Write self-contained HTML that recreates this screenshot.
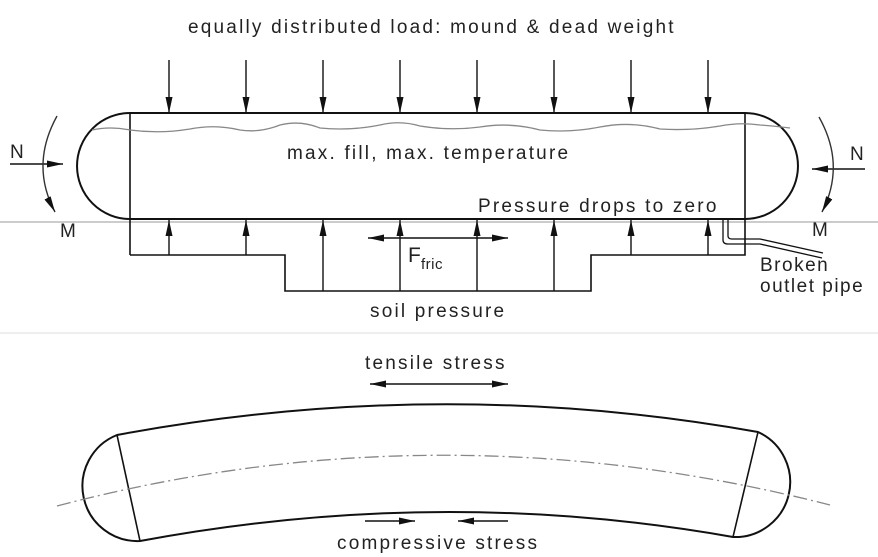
<!DOCTYPE html>
<html><head><style>
html,body{margin:0;padding:0;background:#fff;}
svg{display:block;}
text{font-family:"Liberation Sans",sans-serif;fill:#222;}
</style></head><body>
<svg width="878" height="557" viewBox="0 0 878 557" xmlns="http://www.w3.org/2000/svg">
<defs>
<marker id="ah" viewBox="0 0 16 8" refX="16" refY="4" markerWidth="16" markerHeight="8" markerUnits="userSpaceOnUse" orient="auto">
<path d="M0,0.5 L16,4 L0,7.5 Z" fill="#111"/></marker>
<marker id="ahs" viewBox="0 0 16 8" refX="16" refY="4" markerWidth="18" markerHeight="8" markerUnits="userSpaceOnUse" orient="auto">
<path d="M0,0.5 L16,4 L0,7.5 Z" fill="#111"/></marker>
<marker id="ahss" viewBox="0 0 16 8" refX="16" refY="4" markerWidth="18" markerHeight="8" markerUnits="userSpaceOnUse" orient="auto-start-reverse">
<path d="M0,0.5 L16,4 L0,7.5 Z" fill="#111"/></marker>
</defs>
<g fill="none" stroke="#111">
<line x1="0" y1="222" x2="878" y2="222" stroke="#999" stroke-width="1"/>
<line x1="0" y1="333" x2="878" y2="333" stroke="#ddd" stroke-width="1"/>
<path d="M130,113 L745,113 A53,53 0 0 1 745,219 L130,219 A53,53 0 0 1 130,113 Z" stroke-width="2"/>
<line x1="130" y1="113" x2="130" y2="255" stroke-width="1.6"/>
<line x1="745" y1="113" x2="745" y2="219" stroke-width="1.6"/>
<path d="M745,219 L745,255 L591,255 L591,291 L285,291 L285,255 L130,255" stroke-width="1.6"/>
<path d="M92,130 Q110,126 130,130 Q160,134 190,129 Q215,124 240,130 Q260,133 280,125 Q300,120 320,128 Q350,131 380,125 Q400,120 420,126 Q450,131 480,127 Q510,122 540,130 Q570,133 600,127 Q630,121 660,129 Q690,131 720,126 Q740,122 760,125 Q775,126 790,128" stroke="#888" stroke-width="1.3"/>
<g stroke-width="1.4">
<line x1="169" y1="60" x2="169" y2="113" marker-end="url(#ah)"/>
<line x1="246" y1="60" x2="246" y2="113" marker-end="url(#ah)"/>
<line x1="323" y1="60" x2="323" y2="113" marker-end="url(#ah)"/>
<line x1="400" y1="60" x2="400" y2="113" marker-end="url(#ah)"/>
<line x1="477" y1="60" x2="477" y2="113" marker-end="url(#ah)"/>
<line x1="554" y1="60" x2="554" y2="113" marker-end="url(#ah)"/>
<line x1="631" y1="60" x2="631" y2="113" marker-end="url(#ah)"/>
<line x1="708" y1="60" x2="708" y2="113" marker-end="url(#ah)"/>
<line x1="169" y1="255" x2="169" y2="220" marker-end="url(#ah)"/>
<line x1="246" y1="255" x2="246" y2="220" marker-end="url(#ah)"/>
<line x1="323" y1="291" x2="323" y2="220" marker-end="url(#ah)"/>
<line x1="400" y1="291" x2="400" y2="220" marker-end="url(#ah)"/>
<line x1="477" y1="291" x2="477" y2="220" marker-end="url(#ah)"/>
<line x1="554" y1="291" x2="554" y2="220" marker-end="url(#ah)"/>
<line x1="631" y1="255" x2="631" y2="220" marker-end="url(#ah)"/>
<line x1="708" y1="255" x2="708" y2="220" marker-end="url(#ah)"/>
<line x1="400" y1="238" x2="368" y2="238" marker-end="url(#ahs)"/>
<line x1="400" y1="238" x2="477" y2="238"/>
<line x1="477" y1="238" x2="508" y2="238" marker-end="url(#ahs)"/>
<line x1="10" y1="164" x2="63" y2="164" marker-end="url(#ahs)"/>
<line x1="865" y1="169" x2="812" y2="169" marker-end="url(#ahs)"/>
</g>
<path d="M57,116 Q30,165 55,212" stroke="#333" stroke-width="1.4" marker-end="url(#ah)"/>
<path d="M819,117 Q846,165 822,212" stroke="#333" stroke-width="1.4" marker-end="url(#ah)"/>
<path d="M723,220 L723,240 Q723,244 728,244 L760,244 L822,258" stroke-width="1.3"/>
<path d="M728,220 L728,236 Q728,239 732,239 L760,239 L823,253" stroke-width="1.3"/>
<path d="M117,435 Q440,375 758,432 A55,55 0 0 1 733,537 Q440,485 140,541 A55,55 0 0 1 117,435 Z" stroke-width="2"/>
<line x1="117" y1="435" x2="140" y2="541" stroke-width="1.6"/>
<line x1="758" y1="432" x2="733" y2="537" stroke-width="1.6"/>
<path d="M57,506 Q440,405 830,505" stroke="#888" stroke-width="1.3" stroke-dasharray="14,4,2,4"/>
<line x1="370" y1="384" x2="508" y2="384" stroke-width="1.4" marker-start="url(#ahss)" marker-end="url(#ahss)"/>
<line x1="365" y1="521" x2="415" y2="521" stroke-width="1.4" marker-end="url(#ahs)"/>
<line x1="508" y1="521" x2="458" y2="521" stroke-width="1.4" marker-end="url(#ahs)"/>
</g>
<g font-size="19" letter-spacing="2.2">
<text x="188" y="33">equally distributed load:  mound &amp; dead weight</text>
<text x="287" y="159">max. fill, max. temperature</text>
<text x="478" y="212">Pressure drops to zero</text>
<text x="370" y="317">soil pressure</text>
<text x="365" y="369">tensile stress</text>
<text x="337" y="549">compressive stress</text>
<text x="760" y="271" letter-spacing="1.5">Broken</text>
<text x="760" y="292" letter-spacing="1.5">outlet pipe</text>
<text x="10" y="158">N</text>
<text x="850" y="160">N</text>
<text x="60" y="237">M</text>
<text x="812" y="236">M</text>
<text x="408" y="262" font-size="21" letter-spacing="0">F</text>
<text x="421" y="269" font-size="15" letter-spacing="0.5">fric</text>
</g>
</svg>
</body></html>
